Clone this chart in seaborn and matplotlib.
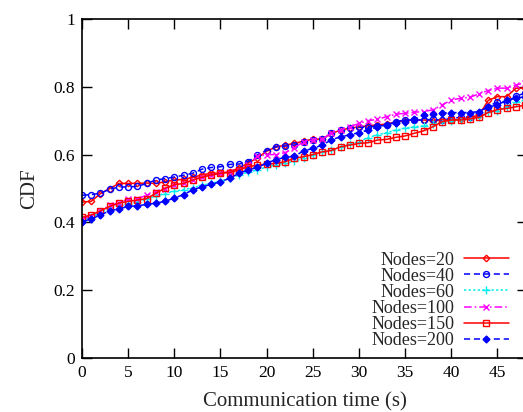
import numpy as np
import pandas as pd
import matplotlib
matplotlib.use("Agg")
import matplotlib.pyplot as plt
import seaborn as sns

time_s = list(range(0, 49))

nodes20 = [0.460, 0.462, 0.485, 0.500, 0.515, 0.515, 0.515, 0.516, 0.515, 0.520,
           0.525, 0.527, 0.533, 0.540, 0.545, 0.545, 0.550, 0.560, 0.575, 0.590,
           0.610, 0.622, 0.628, 0.633, 0.640, 0.645, 0.646, 0.662, 0.672, 0.678,
           0.682, 0.685, 0.688, 0.690, 0.697, 0.700, 0.702, 0.702, 0.700, 0.702,
           0.702, 0.704, 0.710, 0.716, 0.760, 0.771, 0.771, 0.796, 0.796]
nodes40 = [0.480, 0.482, 0.486, 0.498, 0.504, 0.505, 0.506, 0.515, 0.525, 0.529,
           0.534, 0.539, 0.545, 0.557, 0.562, 0.564, 0.571, 0.572, 0.579, 0.599,
           0.612, 0.623, 0.625, 0.628, 0.638, 0.643, 0.645, 0.663, 0.672, 0.677,
           0.680, 0.682, 0.684, 0.687, 0.697, 0.702, 0.702, 0.702, 0.704, 0.702,
           0.707, 0.710, 0.712, 0.722, 0.741, 0.756, 0.753, 0.773, 0.781]
nodes60 = [0.405, 0.415, 0.430, 0.440, 0.450, 0.455, 0.460, 0.468, 0.478, 0.485,
           0.492, 0.497, 0.502, 0.510, 0.515, 0.522, 0.530, 0.540, 0.548, 0.555,
           0.563, 0.570, 0.575, 0.580, 0.590, 0.598, 0.608, 0.615, 0.622, 0.630,
           0.638, 0.650, 0.658, 0.665, 0.672, 0.678, 0.682, 0.685, 0.690, 0.695,
           0.700, 0.702, 0.705, 0.710, 0.725, 0.730, 0.740, 0.755, 0.760]
nodes100 = [0.410, 0.418, 0.435, 0.450, 0.458, 0.469, 0.470, 0.480, 0.490, 0.500,
            0.510, 0.515, 0.525, 0.535, 0.540, 0.545, 0.550, 0.555, 0.569, 0.595,
            0.600, 0.600, 0.606, 0.620, 0.638, 0.643, 0.645, 0.663, 0.672, 0.682,
            0.692, 0.700, 0.704, 0.712, 0.719, 0.722, 0.725, 0.727, 0.732, 0.746,
            0.761, 0.766, 0.769, 0.779, 0.789, 0.796, 0.796, 0.805, 0.812]
nodes150 = [0.415, 0.422, 0.434, 0.447, 0.457, 0.462, 0.466, 0.470, 0.486, 0.501,
            0.511, 0.515, 0.525, 0.533, 0.540, 0.545, 0.547, 0.555, 0.564, 0.569,
            0.572, 0.574, 0.579, 0.589, 0.594, 0.600, 0.608, 0.612, 0.623, 0.628,
            0.633, 0.635, 0.643, 0.645, 0.651, 0.655, 0.663, 0.670, 0.682, 0.697,
            0.702, 0.702, 0.705, 0.710, 0.724, 0.733, 0.736, 0.741, 0.746]
nodes200 = [0.402, 0.410, 0.422, 0.434, 0.440, 0.447, 0.449, 0.453, 0.457, 0.462,
            0.472, 0.482, 0.496, 0.505, 0.512, 0.520, 0.530, 0.545, 0.555, 0.562,
            0.575, 0.585, 0.592, 0.595, 0.611, 0.618, 0.628, 0.643, 0.653, 0.658,
            0.665, 0.672, 0.682, 0.687, 0.692, 0.697, 0.705, 0.717, 0.719, 0.722,
            0.724, 0.724, 0.724, 0.727, 0.741, 0.746, 0.761, 0.766, 0.771]

labels = ["Nodes=20", "Nodes=40", "Nodes=60", "Nodes=100", "Nodes=150", "Nodes=200"]
series = [nodes20, nodes40, nodes60, nodes100, nodes150, nodes200]
x_ticks = [0, 5, 10, 15, 20, 25, 30, 35, 40, 45]
y_ticks = [0, 0.2, 0.4, 0.6, 0.8, 1]
y_tick_labels = ["0", "0.2", "0.4", "0.6", "0.8", "1"]

styles = [
    dict(color="#ff0000", linestyle="-", marker="D", markersize=3.3, markerfacecolor="none"),
    dict(color="#0000ff", linestyle=(0, (4, 2.5)), marker="o", markersize=4.3, markerfacecolor="none"),
    dict(color="#00eeee", linestyle=(0, (1.5, 1.5)), marker="+", markersize=5.5),
    dict(color="#ff00ff", linestyle=(0, (5, 2, 1, 2)), marker="x", markersize=4),
    dict(color="#ff0000", linestyle="-", marker="s", markersize=3.8, markerfacecolor="none"),
    dict(color="#0000ff", linestyle=(0, (4, 2.5)), marker="D", markersize=3.5),
]

df = pd.DataFrame({
    "time": np.tile(time_s, len(labels)),
    "cdf": np.concatenate(series),
    "series": np.repeat(labels, len(time_s)),
})

sns.set_style("ticks")
plt.rcParams["font.family"] = ["Liberation Serif", "DejaVu Serif"]

fig = plt.figure(figsize=(5.23, 4.12), dpi=100)
ax = fig.add_axes([82 / 523, 54 / 412, 445 / 523, 339 / 412])

for lab, st in zip(labels, styles):
    sub = df[df["series"] == lab]
    sns.lineplot(data=sub, x="time", y="cdf", ax=ax, label=lab, linewidth=1.1,
                 markeredgewidth=1.0, markeredgecolor=st["color"], **st)

ax.set_xlim(0, 48.2)
ax.set_ylim(0, 1)
ax.set_xticks(x_ticks)
ax.set_yticks(y_ticks)
ax.set_yticklabels(y_tick_labels)
ax.tick_params(direction="in", length=7, width=1, top=True, right=True,
               labelsize=12.5, pad=5, colors="black")
for sp in ax.spines.values():
    sp.set_linewidth(1.2)
    sp.set_color("black")
ax.set_xlabel("Communication time (s)", fontsize=15, labelpad=8)
ax.set_ylabel("CDF", fontsize=15, labelpad=10)

ax.legend(loc="lower right", bbox_to_anchor=(0.975, 0.005), markerfirst=False,
          frameon=False, fontsize=13, handlelength=2.5, handletextpad=0.5,
          labelspacing=-0.05, borderaxespad=0.0)

fig.savefig("out.png", dpi=100)
